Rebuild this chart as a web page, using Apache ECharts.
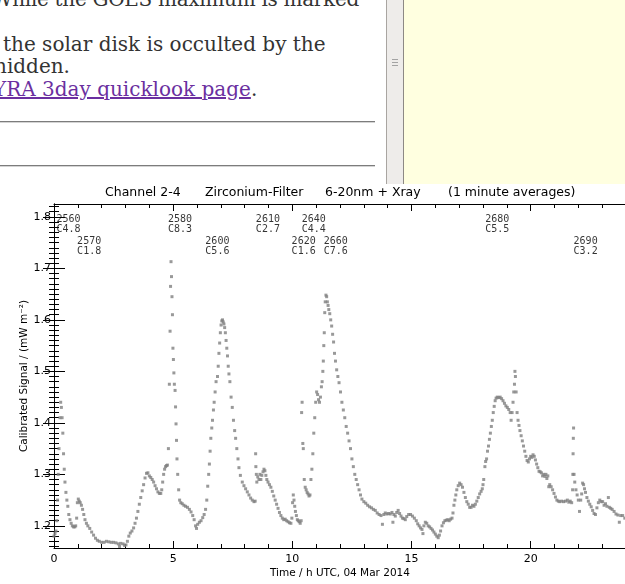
<!DOCTYPE html>
<html>
<head>
<meta charset="utf-8">
<script src="https://cdn.jsdelivr.net/npm/echarts@6.0.0/dist/echarts.min.js"></script>
<style>
  html, body { margin: 0; padding: 0; width: 625px; height: 584px; overflow: hidden; background: #fff; }
  #page { position: absolute; left: 0; top: 0; width: 625px; height: 184px; background: #fff; overflow: hidden; }
  .ln { position: absolute; white-space: nowrap; font-family: "DejaVu Serif", serif; font-size: 20px; line-height: 23px; color: #333; }
  .ln a { color: #6b2fa0; text-decoration: underline; }
  .rule { position: absolute; left: 0; width: 375px; height: 1px; background: #7c7c7c; border-bottom: 1px solid #d4d4d4; }
  #splitter { position: absolute; left: 386px; top: 0; width: 16px; height: 184px; background: #eeecea; border-left: 1px solid #a9a5a1; border-right: 1px solid #8d8985; }
  .grip { position: absolute; left: 5px; width: 6px; height: 1px; background: #a3a3a3; }
  #side { position: absolute; left: 404px; top: 0; width: 221px; height: 184px; background: #ffffe0; }
  #chart { position: absolute; left: 0; top: 184px; width: 640px; height: 400px; background: #fff; }
</style>
</head>
<body>
<div id="page">
  <div class="ln" style="top:-12px; left:-8px; letter-spacing:-0.3px;">While the GOES maximum is marked</div>
  <div class="ln" style="top:33px; left:3px;">the solar disk is occulted by the</div>
  <div class="ln" style="top:55px; left:-6px;">hidden.</div>
  <div class="ln" style="top:78px; left:-7px;"><a href="#">YRA 3day quicklook page</a>.</div>
  <div class="rule" style="top:121px;"></div>
  <div class="rule" style="top:165px;"></div>
  <div id="splitter">
    <div class="grip" style="top:59px;"></div>
    <div class="grip" style="top:62px;"></div>
    <div class="grip" style="top:65px;"></div>
  </div>
  <div id="side"></div>
</div>
<div id="chart"></div>
<script>
// Tick positions (hours / mW m^-2)
const xMajorTicks = [0, 5, 10, 15, 20];
const xMinorTicks = [1, 2, 3, 4, 6, 7, 8, 9, 11, 12, 13, 14, 16, 17, 18, 19, 21, 22, 23];
const yMajorTicks = [1.2, 1.3, 1.4, 1.5, 1.6, 1.7, 1.8];
const yMinorTicks = [];
for (let k = 116; k <= 182; k++) { if (k % 10 !== 0) yMinorTicks.push(k / 100); }

// GOES flare annotations: event number, class, time (h UTC)
const flareIds = ['2560', '2570', '2580', '2600', '2610', '2620', '2640', '2660', '2680', '2690'];
const flareClasses = ['C4.8', 'C1.8', 'C8.3', 'C5.6', 'C2.7', 'C1.6', 'C4.4', 'C7.6', 'C5.5', 'C3.2'];
const flareTimes = [0.10, 0.97, 4.78, 6.35, 8.47, 9.97, 10.39, 11.32, 18.09, 21.80];

// 1-minute averaged signal, [time h, calibrated signal]
const signal00to05 = [
  [0.00,1.180],[0.04,1.185],[0.08,1.190],[0.12,1.210],[0.15,1.250],[0.18,1.300],[0.21,1.350],[0.25,1.410],
  [0.28,1.440],[0.31,1.430],[0.34,1.410],[0.37,1.380],[0.40,1.340],[0.43,1.310],[0.46,1.285],[0.50,1.265],
  [0.54,1.250],[0.58,1.238],[0.62,1.222],[0.67,1.212],[0.72,1.205],[0.77,1.200],[0.82,1.198],[0.87,1.198],
  [0.91,1.200],[0.95,1.215],[0.98,1.245],[1.02,1.252],[1.06,1.248],[1.10,1.245],[1.15,1.240],[1.20,1.232],
  [1.25,1.222],[1.30,1.212],[1.36,1.205],[1.42,1.200],[1.50,1.195],[1.58,1.188],[1.66,1.182],[1.74,1.176],
  [1.82,1.172],[1.90,1.170],[2.00,1.168],[2.10,1.168],[2.20,1.170],[2.30,1.169],[2.40,1.168],[2.50,1.168],
  [2.60,1.167],[2.70,1.165],[2.75,1.160],[2.80,1.166],[2.90,1.165],[2.96,1.162],[3.02,1.163],[3.08,1.170],
  [3.14,1.180],[3.20,1.186],[3.27,1.190],[3.34,1.196],[3.40,1.205],[3.46,1.215],[3.52,1.228],[3.58,1.242],
  [3.64,1.255],[3.70,1.268],[3.76,1.280],[3.82,1.293],[3.88,1.302],[3.94,1.303],[4.00,1.297],[4.06,1.294],
  [4.12,1.290],[4.18,1.285],[4.24,1.278],[4.30,1.272],[4.36,1.266],[4.42,1.263],[4.48,1.263],[4.52,1.270],
  [4.56,1.285],[4.60,1.300],[4.64,1.310],[4.68,1.315],[4.72,1.317],[4.76,1.318],[4.80,1.350],[4.84,1.475],
  [4.87,1.578],[4.89,1.665],[4.91,1.713],[4.93,1.684],[4.95,1.645],[4.97,1.610],[4.99,1.545],[5.01,1.523]
];
const signal05to10 = [
  [5.03,1.497],[5.05,1.475],[5.08,1.463],[5.10,1.431],[5.12,1.398],[5.14,1.366],[5.16,1.330],[5.19,1.300],
  [5.23,1.270],[5.27,1.250],[5.32,1.245],[5.38,1.243],[5.45,1.240],[5.52,1.238],[5.60,1.236],[5.68,1.232],
  [5.75,1.227],[5.82,1.220],[5.88,1.212],[5.94,1.200],[5.98,1.195],[6.03,1.203],[6.10,1.207],[6.17,1.210],
  [6.24,1.216],[6.30,1.222],[6.36,1.232],[6.41,1.250],[6.45,1.277],[6.49,1.300],[6.52,1.320],[6.55,1.345],
  [6.58,1.370],[6.62,1.390],[6.65,1.405],[6.69,1.425],[6.72,1.440],[6.76,1.460],[6.80,1.480],[6.86,1.490],
  [6.89,1.510],[6.92,1.535],[6.95,1.555],[6.98,1.575],[7.01,1.590],[7.04,1.598],[7.07,1.600],[7.10,1.596],
  [7.13,1.592],[7.16,1.585],[7.19,1.575],[7.22,1.560],[7.25,1.545],[7.28,1.530],[7.31,1.510],[7.34,1.495],
  [7.38,1.480],[7.43,1.450],[7.48,1.430],[7.53,1.405],[7.58,1.385],[7.62,1.370],[7.67,1.350],[7.72,1.330],
  [7.76,1.313],[7.82,1.298],[7.90,1.285],[7.97,1.278],[8.04,1.272],[8.11,1.266],[8.18,1.260],[8.25,1.254],
  [8.32,1.250],[8.39,1.247],[8.44,1.248],[8.46,1.340],[8.47,1.315],[8.49,1.300],[8.51,1.285],[8.55,1.295],
  [8.60,1.290],[8.64,1.300],[8.68,1.290],[8.72,1.298],[8.77,1.305],[8.81,1.310],[8.85,1.307],[8.89,1.298],
  [8.93,1.290],[8.98,1.285],[9.04,1.280],[9.10,1.275],[9.16,1.267],[9.22,1.258],[9.28,1.250],[9.34,1.242],
  [9.40,1.234],[9.46,1.226],[9.52,1.220],[9.58,1.215],[9.64,1.212],[9.70,1.213],[9.76,1.210],[9.82,1.208],
  [9.88,1.206],[9.94,1.205],[9.98,1.215]
];
const signal10to15 = [
  [10.01,1.245],[10.04,1.260],[10.07,1.250],[10.10,1.238],[10.13,1.228],[10.17,1.220],[10.21,1.212],[10.25,1.210],
  [10.29,1.208],[10.33,1.205],[10.37,1.210],[10.39,1.420],[10.41,1.440],[10.44,1.360],[10.46,1.350],[10.50,1.290],
  [10.54,1.275],[10.58,1.270],[10.62,1.265],[10.66,1.262],[10.70,1.258],[10.74,1.260],[10.78,1.290],[10.82,1.310],
  [10.86,1.340],[10.90,1.380],[10.94,1.410],[10.98,1.440],[11.02,1.460],[11.06,1.455],[11.10,1.445],[11.14,1.440],
  [11.18,1.450],[11.22,1.470],[11.25,1.480],[11.28,1.500],[11.30,1.520],[11.32,1.550],[11.34,1.575],[11.36,1.614],
  [11.38,1.635],[11.41,1.648],[11.44,1.645],[11.47,1.635],[11.50,1.628],[11.53,1.620],[11.57,1.612],[11.61,1.600],
  [11.65,1.588],[11.69,1.572],[11.73,1.557],[11.77,1.535],[11.81,1.520],[11.86,1.503],[11.91,1.490],[11.96,1.478],
  [12.02,1.460],[12.08,1.440],[12.14,1.425],[12.20,1.410],[12.26,1.393],[12.32,1.380],[12.38,1.365],[12.44,1.350],
  [12.50,1.330],[12.56,1.315],[12.62,1.300],[12.68,1.290],[12.74,1.280],[12.80,1.270],[12.86,1.260],[12.92,1.252],
  [13.00,1.247],[13.08,1.244],[13.16,1.240],[13.24,1.237],[13.32,1.235],[13.40,1.232],[13.48,1.230],[13.56,1.225],
  [13.64,1.222],[13.72,1.220],[13.78,1.203],[13.84,1.222],[13.90,1.225],[13.97,1.223],[14.04,1.224],[14.11,1.223],
  [14.18,1.226],[14.22,1.207],[14.26,1.222],[14.32,1.219],[14.38,1.226],[14.44,1.230],[14.50,1.224],[14.56,1.219],
  [14.62,1.215],[14.68,1.214],[14.74,1.212],[14.80,1.218],[14.88,1.222],[14.96,1.222]
];
const signal15to20 = [
  [15.04,1.219],[15.12,1.215],[15.20,1.210],[15.26,1.204],[15.32,1.200],[15.38,1.196],[15.44,1.193],[15.48,1.185],
  [15.52,1.200],[15.58,1.207],[15.64,1.205],[15.70,1.200],[15.76,1.198],[15.82,1.195],[15.88,1.192],[15.94,1.188],
  [16.00,1.184],[16.06,1.180],[16.12,1.177],[16.17,1.182],[16.22,1.190],[16.28,1.200],[16.34,1.206],[16.40,1.210],
  [16.46,1.211],[16.52,1.212],[16.58,1.210],[16.64,1.213],[16.70,1.215],[16.74,1.225],[16.78,1.240],[16.82,1.250],
  [16.86,1.260],[16.90,1.270],[16.96,1.278],[17.02,1.283],[17.08,1.280],[17.14,1.275],[17.20,1.265],[17.26,1.255],
  [17.32,1.247],[17.38,1.242],[17.44,1.236],[17.50,1.236],[17.56,1.240],[17.62,1.238],[17.68,1.242],[17.74,1.248],
  [17.80,1.255],[17.86,1.262],[17.92,1.267],[17.97,1.272],[18.00,1.280],[18.03,1.290],[18.08,1.315],[18.11,1.325],
  [18.15,1.330],[18.19,1.345],[18.23,1.355],[18.27,1.368],[18.31,1.380],[18.35,1.393],[18.39,1.405],[18.43,1.420],
  [18.47,1.432],[18.51,1.443],[18.55,1.448],[18.60,1.450],[18.66,1.449],[18.72,1.450],[18.78,1.447],[18.84,1.443],
  [18.90,1.438],[18.96,1.433],[19.02,1.430],[19.08,1.426],[19.14,1.420],[19.18,1.405],[19.22,1.420],[19.26,1.440],
  [19.29,1.460],[19.32,1.475],[19.34,1.500],[19.36,1.490],[19.39,1.460],[19.43,1.420],[19.47,1.405],[19.51,1.395],
  [19.55,1.385],[19.60,1.375],[19.65,1.365],[19.70,1.355],[19.75,1.345],[19.80,1.335],[19.85,1.327],[19.90,1.324],
  [19.95,1.330]
];
const signal20to24 = [
  [20.00,1.335],[20.05,1.333],[20.10,1.338],[20.15,1.335],[20.20,1.328],[20.25,1.320],[20.30,1.313],[20.35,1.306],
  [20.40,1.305],[20.45,1.303],[20.50,1.297],[20.55,1.300],[20.60,1.296],[20.64,1.300],[20.68,1.292],[20.72,1.297],
  [20.76,1.276],[20.80,1.280],[20.86,1.276],[20.92,1.270],[20.98,1.263],[21.04,1.256],[21.10,1.250],[21.16,1.248],
  [21.22,1.247],[21.30,1.248],[21.38,1.247],[21.46,1.248],[21.54,1.250],[21.60,1.246],[21.66,1.248],[21.72,1.245],
  [21.76,1.270],[21.77,1.300],[21.78,1.340],[21.79,1.370],[21.80,1.390],[21.82,1.300],[21.85,1.285],[21.90,1.270],
  [21.95,1.260],[22.00,1.250],[22.05,1.228],[22.10,1.250],[22.14,1.262],[22.18,1.283],[22.22,1.280],[22.26,1.272],
  [22.30,1.265],[22.36,1.255],[22.42,1.248],[22.48,1.242],[22.54,1.237],[22.60,1.230],[22.66,1.224],[22.72,1.222],
  [22.78,1.235],[22.84,1.245],[22.90,1.250],[22.96,1.247],[23.02,1.247],[23.08,1.240],[23.14,1.243],[23.20,1.238],
  [23.26,1.255],[23.30,1.236],[23.36,1.234],[23.42,1.232],[23.50,1.228],[23.58,1.223],[23.66,1.221],[23.72,1.207],
  [23.78,1.220],[23.86,1.220],[23.95,1.215]
];

const signal = [].concat(signal00to05, signal05to10, signal10to15, signal15to20, signal20to24);

const FONT = '"DejaVu Sans", sans-serif';
const MONO = '"DejaVu Sans Mono", monospace';
const Y_MIN = 1.157, Y_MAX = 1.825;
const labelLevels = [1.804, 1.763];

const flarePoints = flareIds.map((id, i) => ({
  value: [flareTimes[i], labelLevels[i % 2]],
  name: id + '\n' + flareClasses[i]
}));

function xAxisDef(position, ticks, len, withLine, withLabels) {
  return {
    type: 'value', min: 0, max: 24, position: position,
    splitLine: { show: false },
    axisLine: { show: withLine, lineStyle: { color: '#000', width: 1 } },
    axisTick: { show: true, inside: true, length: len, customValues: ticks, lineStyle: { color: '#000', width: 1 } },
    axisLabel: withLabels
      ? { show: true, customValues: xMajorTicks, margin: 6, color: '#000', fontFamily: FONT, fontSize: 11 }
      : { show: false }
  };
}
function yAxisDef(position, ticks, len, withLine, withLabels) {
  return {
    type: 'value', min: Y_MIN, max: Y_MAX, position: position,
    splitLine: { show: false },
    axisLine: { show: withLine, lineStyle: { color: '#000', width: 1 } },
    axisTick: { show: true, inside: true, length: len, customValues: ticks, lineStyle: { color: '#000', width: 1 } },
    axisLabel: withLabels
      ? { show: true, customValues: yMajorTicks, margin: 3, color: '#000', fontFamily: FONT, fontSize: 11,
          formatter: v => Number(v).toFixed(1) }
      : { show: false }
  };
}

const xAxes = [
  xAxisDef('bottom', xMajorTicks, 7, true, true),
  xAxisDef('bottom', xMinorTicks, 4, false, false),
  xAxisDef('top', xMajorTicks, 7, true, false),
  xAxisDef('top', xMinorTicks, 4, false, false)
];
Object.assign(xAxes[0], {
  name: 'Time / h UTC, 04 Mar 2014', nameLocation: 'middle', nameGap: 20, nameMoveOverlap: false,
  nameTextStyle: { color: '#000', fontFamily: FONT, fontSize: 10.5 }
});
const yAxes = [
  yAxisDef('left', yMajorTicks, 11, true, true),
  yAxisDef('left', yMinorTicks, 5, false, false),
  yAxisDef('right', yMajorTicks, 11, true, false),
  yAxisDef('right', yMinorTicks, 5, false, false)
];
Object.assign(yAxes[0], {
  name: 'Calibrated Signal / (mW m\u207B\u00B2)', nameLocation: 'middle', nameGap: 24, nameRotate: 90,
  nameMoveOverlap: false,
  nameTextStyle: { color: '#000', fontFamily: FONT, fontSize: 10.5 }
});

const chart = echarts.init(document.getElementById('chart'), null, { renderer: 'canvas' });
chart.setOption({
  animation: false,
  backgroundColor: '#fff',
  title: {
    text: '{a|Channel 2-4}{b|Zirconium-Filter}{c|6-20nm + Xray}{d|(1 minute averages)}',
    left: 105, top: 2, padding: 0,
    textStyle: {
      fontFamily: FONT, fontSize: 12.5, fontWeight: 'normal', color: '#000',
      rich: {
        a: { width: 100, fontFamily: FONT, fontSize: 12.5, color: '#000' },
        b: { width: 120, fontFamily: FONT, fontSize: 12.5, color: '#000' },
        c: { width: 123, fontFamily: FONT, fontSize: 12.5, color: '#000' },
        d: { fontFamily: FONT, fontSize: 12.5, color: '#000' }
      }
    }
  },
  grid: { left: 54, top: 20, width: 572, height: 344, containLabel: false },
  xAxis: xAxes,
  yAxis: yAxes,
  series: [
    {
      type: 'scatter', xAxisIndex: 0, yAxisIndex: 0,
      data: signal, symbol: 'rect', symbolSize: 3,
      itemStyle: { color: '#808080' }, silent: true
    },
    {
      type: 'scatter', xAxisIndex: 0, yAxisIndex: 0,
      data: flarePoints, symbolSize: 0, silent: true,
      label: {
        show: true, position: [0, 0], align: 'left', verticalAlign: 'top',
        formatter: p => p.name, fontFamily: MONO, fontSize: 10, lineHeight: 10, color: '#000'
      }
    }
  ]
});
</script>
</body>
</html>
